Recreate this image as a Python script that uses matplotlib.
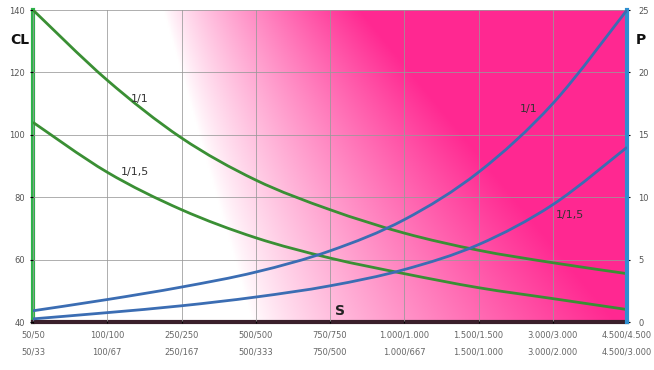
import numpy as np
import matplotlib
matplotlib.use('Agg')
import matplotlib.pyplot as plt
from matplotlib.path import Path
from matplotlib.patches import PathPatch

# categories (two label rows)
labels_top = ['50/50', '100/100', '250/250', '500/500', '750/750',
              '1.000/1.000', '1.500/1.500', '3.000/3.000', '4.500/4.500']
labels_bot = ['50/33', '100/67', '250/167', '500/333', '750/500',
              '1.000/667', '1.500/1.000', '3.000/2.000', '4.500/3.000']

# CL curves (left axis)
cl_11 = [140, 117.5, 99, 85.5, 76, 68.5, 63, 59, 55.5]
cl_115 = [104, 88, 76, 67, 60.5, 55.5, 51, 47.5, 44]
# P curves (right axis)
p_11 = [0.9, 1.8, 2.8, 4.0, 5.7, 8.2, 12.0, 17.5, 25]
p_115 = [0.25, 0.75, 1.3, 2.0, 2.9, 4.2, 6.2, 9.4, 14.0]

green = '#3a8f34'
blue = '#3b6db3'
pink = np.array([1.0, 0.16, 0.57])

x = np.arange(len(labels_top))


def smooth_line(axis, xs, ys, color):
    # excel-style smoothed line through the points (bezier segments)
    pts = np.column_stack([xs, ys]).astype(float)
    n = len(pts)
    verts = [pts[0]]
    codes = [Path.MOVETO]
    for i in range(n - 1):
        p0 = pts[max(i - 1, 0)]
        p1 = pts[i]
        p2 = pts[i + 1]
        p3 = pts[min(i + 2, n - 1)]
        verts += [p1 + (p2 - p0) / 6, p2 - (p3 - p1) / 6, p2]
        codes += [Path.CURVE4] * 3
    patch = PathPatch(Path(verts, codes), fill=False, edgecolor=color,
                      lw=2, zorder=3, transform=axis.transData)
    axis.add_patch(patch)


fig = plt.figure(figsize=(6.54, 3.70), dpi=100)
ax = fig.add_axes([33/654, 48/370, 594/654, 312/370])

# background gradient white -> pink
nx, ny = 400, 200
u = np.linspace(0, 1, nx)[None, :]
v = np.linspace(0, 1, ny)[:, None]
u0 = 0.37 - 0.15 * v
u1 = 0.98 - 0.43 * v
t = np.clip((u - u0) / (u1 - u0), 0, 1)
t = t ** 0.8
img = np.ones((ny, nx, 3)) * (1 - t[..., None]) + pink * t[..., None]
ax.imshow(img, extent=[0, 8, 40, 140], origin='lower', aspect='auto', zorder=0)

ax.set_xlim(0, 8)
ax.set_ylim(40, 140)
ax.set_yticks(range(40, 141, 20))
ax.set_xticks(x)
ax.set_xticklabels([])
ax.grid(True, color='#999999', lw=0.7, alpha=0.8)
ax.set_axisbelow(False)
for gl in ax.get_xgridlines() + ax.get_ygridlines():
    gl.set_zorder(1)

smooth_line(ax, x, cl_11, green)
smooth_line(ax, x, cl_115, green)

ax.tick_params(axis='y', labelsize=6, labelcolor='#555555', length=2, pad=4)
ax.tick_params(axis='x', length=2, direction='inout')
ax.spines['left'].set_color('#2fb24a')
ax.spines['left'].set_linewidth(3)
ax.spines['bottom'].set_color('#3a1f2b')
ax.spines['bottom'].set_linewidth(3)
ax.spines['top'].set_visible(False)
ax.spines['right'].set_visible(False)

# two rows of category labels
for i in x:
    ax.text(i, -0.042, labels_top[i], transform=ax.get_xaxis_transform(),
            ha='center', va='center', fontsize=6, color='#666666')
    ax.text(i, -0.097, labels_bot[i], transform=ax.get_xaxis_transform(),
            ha='center', va='center', fontsize=6, color='#666666')

ax2 = ax.twinx()
ax2.set_ylim(0, 25)
ax2.set_yticks(range(0, 26, 5))
smooth_line(ax2, x, p_11, blue)
smooth_line(ax2, x, p_115, blue)
ax2.tick_params(axis='y', labelsize=6, labelcolor='#555555', length=2, pad=6)
for s in ['top', 'left', 'bottom']:
    ax2.spines[s].set_visible(False)
ax2.spines['right'].set_color('#2e8fd0')
ax2.spines['right'].set_linewidth(3)

# curve labels
ax.text(1.44, 111.5, '1/1', fontsize=8, color='#333333', ha='center', va='center', zorder=4)
ax.text(1.37, 88, '1/1,5', fontsize=8, color='#333333', ha='center', va='center', zorder=4)
ax2.text(6.67, 17.1, '1/1', fontsize=8, color='#333333', ha='center', va='center', zorder=4)
ax2.text(7.23, 8.6, '1/1,5', fontsize=8, color='#333333', ha='center', va='center', zorder=4)
ax.text(4.13, 43.5, 'S', fontsize=10, fontweight='bold', color='#222222', ha='center', va='center', zorder=4)

fig.text(20/654, 1 - 40/370, 'CL', fontsize=10, fontweight='bold', color='#111111', ha='center', va='center')
fig.text(641/654, 1 - 40/370, 'P', fontsize=10, fontweight='bold', color='#111111', ha='center', va='center')

fig.savefig('out.png', dpi=100)
